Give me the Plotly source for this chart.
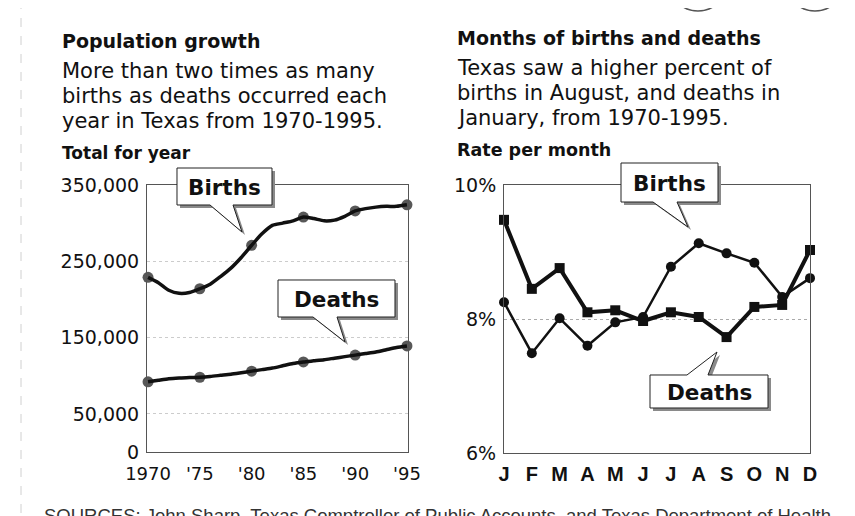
import plotly.graph_objects as go

W, H = 855, 516
OFF = 8  # page body margin in the browser

# ---------------- data ----------------
years = list(range(1970, 1996))
births_year = [229000, 222000, 212000, 208000, 209000, 214000, 220000, 230000, 241000,
               255000, 271000, 286000, 297000, 300000, 303000, 308000, 306000, 303000,
               304000, 309000, 316000, 319000, 321000, 322000, 322000, 324000]
deaths_year = [92000, 94000, 96000, 97000, 97500, 98000, 99000, 100500, 102000, 104000,
               106000, 108000, 110000, 113000, 116000, 118000, 119500, 121000, 123000,
               125000, 127000, 129000, 131000, 134000, 137000, 139000]
year_ticks = [1970, 1975, 1980, 1985, 1990, 1995]
year_tick_text = ["1970", "'75", "'80", "'85", "'90", "'95"]
pop_ticks = [0, 50000, 150000, 250000, 350000]
pop_tick_text = ["0", "50,000", "150,000", "250,000", "350,000"]

months = ["J", "F", "M", "A", "M", "J", "J", "A", "S", "O", "N", "D"]
births_month = [8.25, 7.49, 8.01, 7.60, 7.95, 8.03, 8.78, 9.13, 8.98, 8.84, 8.33, 8.61]
deaths_month = [9.48, 8.45, 8.76, 8.10, 8.13, 7.97, 8.10, 8.03, 7.73, 8.18, 8.21, 9.03]
rate_ticks = [6, 8, 10]
rate_tick_text = ["6%", "8%", "10%"]

FONT = "DejaVu Sans"
INK = "#111111"


def px(x):
    return (x - OFF) / W


def py(y):
    return 1 - (y - OFF) / H


fig = go.Figure()

# ---------------- left chart ----------------
marker_sizes = [11 if y in year_ticks else 0 for y in years]
for vals in (births_year, deaths_year):
    fig.add_trace(go.Scatter(
        x=years, y=vals, mode="lines+markers",
        line=dict(color=INK, width=3.5, shape="spline", smoothing=0.6),
        marker=dict(size=marker_sizes, color=INK, symbol="circle", line=dict(width=0)),
        xaxis="x", yaxis="y", cliponaxis=False, showlegend=False, hoverinfo="skip"))

# ---------------- right chart ----------------
mx = list(range(len(months)))
fig.add_trace(go.Scatter(
    x=mx, y=births_month, mode="lines+markers",
    line=dict(color=INK, width=2.5),
    marker=dict(size=10, color=INK, symbol="circle", line=dict(width=0)),
    xaxis="x2", yaxis="y2", cliponaxis=False, showlegend=False, hoverinfo="skip"))
fig.add_trace(go.Scatter(
    x=mx, y=deaths_month, mode="lines+markers",
    line=dict(color=INK, width=4),
    marker=dict(size=10, color=INK, symbol="square", line=dict(width=0)),
    xaxis="x2", yaxis="y2", cliponaxis=False, showlegend=False, hoverinfo="skip"))

axis_common = dict(showline=True, linecolor="#555", linewidth=1, mirror=True,
                   ticks="", zeroline=False, fixedrange=True, automargin=False)

fig.update_layout(
    template="none",
    width=W, height=H,
    margin=dict(l=0, r=0, t=0, b=0, pad=0, autoexpand=False),
    paper_bgcolor="white", plot_bgcolor="white",
    font=dict(family=FONT, color=INK),
    xaxis=dict(domain=[px(147), px(408)], range=[1969.9, 1995.1],
               tickvals=year_ticks, ticktext=year_tick_text,
               tickfont=dict(size=18, family=FONT, color=INK),
               showgrid=False, ticklabelstandoff=5, **axis_common),
    yaxis=dict(domain=[py(452), py(185)], range=[0, 350000],
               tickvals=pop_ticks, ticktext=pop_tick_text,
               tickfont=dict(size=19, family=FONT, color=INK),
               showgrid=True, gridcolor="#cccccc", griddash="dot", gridwidth=1,
               ticklabelstandoff=3, **axis_common),
    xaxis2=dict(domain=[px(504), px(810)], range=[0, 11], anchor="y2",
                tickvals=mx, ticktext=months,
                tickfont=dict(size=20, family="Liberation Sans", color=INK, weight="bold"),
                showgrid=False, ticklabelstandoff=3, **axis_common),
    yaxis2=dict(domain=[py(453), py(185)], range=[6, 10], anchor="x2",
                tickvals=rate_ticks, ticktext=rate_tick_text,
                tickfont=dict(size=19, family=FONT, color=INK),
                showgrid=True, gridcolor="#aaaaaa", griddash="dot", gridwidth=1,
                ticklabelstandoff=3, **axis_common),
)

# ---------------- headings ----------------
def text(x, y, s, size, bold=False, anchor="left", family=FONT, color=INK):
    fig.add_annotation(x=px(x), y=py(y), xref="paper", yref="paper", text=s,
                       showarrow=False, xanchor=anchor, yanchor="middle",
                       font=dict(size=size, family=family, color=color,
                                 weight="bold" if bold else "normal"))

text(60, 41, "Population growth", 19, bold=True)
text(60, 71, "More than two times as many", 21)
text(60, 96, "births as deaths occurred each", 21)
text(60, 121, "year in Texas from 1970-1995.", 21)
text(60, 153, "Total for year", 17, bold=True)

text(455, 38, "Months of births and deaths", 19, bold=True)
text(455, 68, "Texas saw a higher percent of", 21)
text(455, 93, "births in August, and deaths in", 21)
text(455, 118, "January, from 1970-1995.", 21)
text(455, 150, "Rate per month", 17.5, bold=True)

text(42, 515, "SOURCES: John Sharp, Texas Comptroller of Public Accounts, and Texas Department of Health",
     18.5, family="Liberation Sans", color="#333")


# ---------------- callout boxes ----------------
def callout(x0, y0, x1, y1, bx0, bx1, tx, ty, label, side="bottom"):
    def path(dx, dy):
        if side == "bottom":
            pts = [(x0, y0), (x1, y0), (x1, y1), (bx1, y1), (tx, ty), (bx0, y1), (x0, y1)]
        else:
            pts = [(x0, y0), (bx0, y0), (tx, ty), (bx1, y0), (x1, y0), (x1, y1), (x0, y1)]
        return "M " + " L ".join(f"{px(a + dx):.5f},{py(b + dy):.5f}" for a, b in pts) + " Z"
    fig.add_shape(type="path", path=path(3, 3), xref="paper", yref="paper",
                  fillcolor="#8a8a8a", line=dict(width=0), layer="above")
    fig.add_shape(type="path", path=path(0, 0), xref="paper", yref="paper",
                  fillcolor="white", line=dict(color="#222", width=1), layer="above")
    fig.add_annotation(x=px((x0 + x1) / 2), y=py((y0 + y1) / 2 + 1), xref="paper", yref="paper",
                       text=label, showarrow=False, xanchor="center", yanchor="middle",
                       font=dict(size=21.5, family=FONT, color=INK, weight="bold"))

callout(177, 168, 272, 205, 210, 233, 242, 232, "Births")
callout(278, 280, 395, 317, 313, 337, 345, 342, "Deaths")
callout(621, 163, 718, 202, 653, 677, 688, 227, "Births")
callout(650, 375, 768, 408, 687, 708, 717, 352, "Deaths", side="top")

# ---------------- decorations ----------------
fig.add_shape(type="line", x0=px(21), x1=px(21), y0=py(0), y1=py(530), xref="paper", yref="paper",
              line=dict(color="#d0d0d0", width=1, dash="dash"))
for cx in (698, 815):
    fig.add_shape(type="circle", xref="paper", yref="paper",
                  x0=px(cx - 29), x1=px(cx + 29), y0=py(11), y1=py(-47),
                  line=dict(color="#555", width=1.5))

fig.write_html("out.html")
